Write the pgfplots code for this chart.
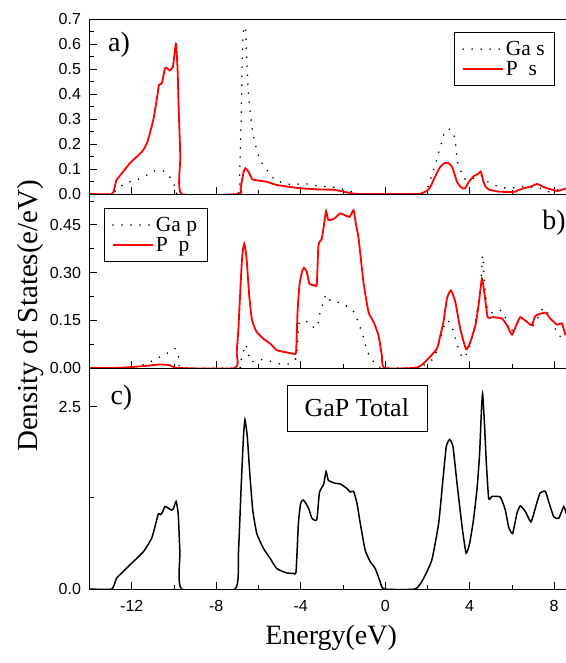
\documentclass[border=0pt]{standalone}
\usepackage{fontspec}
\setmainfont{Liberation Serif}
\newfontfamily\arial{Liberation Sans}
\usepackage{pgfplots}
\pgfplotsset{compat=1.18}
\pgfplotsset{legend image code/.code={\draw[#1] (0pt,0pt) -- (40pt,0pt);}}
\begin{document}
\begin{tikzpicture}
\pgfplotsset{
 dos/.style={
  scale only axis, width=476.5pt, xmin=-14, xmax=8.56,
  axis y line*=left,
  xtick={-12,-8,-4,0,4,8}, minor xtick={-10,-6,-2,2,6},
  xtick pos=bottom, ytick pos=left,
  tick align=inside, major tick length=7pt, minor tick length=4pt,
  tick style={black, line width=0.8pt},
  axis line style={line width=0.8pt},
  /pgf/number format/assume math mode=true,
  tick label style={font=\arial\fontsize{16}{18}\selectfont},
  yticklabel style={xshift=-5pt},
  xticklabel style={yshift=-8pt},
  legend cell align=left,
  legend style={draw=black, line width=0.6pt, font=\fontsize{21.5}{24}\selectfont, inner xsep=8pt, inner ysep=7pt,
     /tikz/every even column/.style={column sep=3pt}},
 },
 sdot/.style={black, line width=1.8pt, line cap=round, dash pattern=on 0pt off 9pt, smooth, tension=0.3},
 sred/.style={red, line width=1.8pt, smooth, tension=0.3},
}
% ---------- panel a ----------
\begin{axis}[dos, name=a, height=175pt, ymin=0, ymax=0.7,
  ytick={0,0.1,0.2,0.3,0.4,0.5,0.6,0.7},
  minor ytick={0.05,0.15,0.25,0.35,0.45,0.55,0.65},
  xticklabels={},
  yticklabel style={/pgf/number format/fixed, /pgf/number format/fixed zerofill, /pgf/number format/precision=1},
  legend style={at={(axis description cs:0.977,0.926)}, anchor=north east}]
\addplot[sdot] coordinates {(-14,0) (-12.9,0) (-12.72,0.02) (-12.24,0.045) (-11.77,0.056) (-11.33,0.073) (-10.9,0.093) (-10.51,0.093) (-10.19,0.067) (-9.96,0.03) (-9.8,0) (-7.0,0) (-6.9,0.06) (-6.87,0.136) (-6.82,0.3) (-6.79,0.443) (-6.74,0.62) (-6.69,0.669) (-6.62,0.66) (-6.55,0.536) (-6.48,0.403) (-6.4,0.336) (-6.27,0.243) (-6.08,0.176) (-5.92,0.136) (-5.61,0.096) (-5.21,0.056) (-4.74,0.043) (-4.35,0.036) (-3.9,0.043) (-3.4,0.035) (-2.92,0.03) (-2.46,0.027) (-2.05,0.02) (-1.58,0.009) (-1.3,0) (1.6,0) (1.98,0.02) (2.29,0.096) (2.57,0.176) (2.7,0.216) (2.84,0.253) (3.0,0.26) (3.16,0.253) (3.32,0.216) (3.4,0.136) (3.55,0.1) (3.71,0.063) (3.95,0.056) (4.18,0.063) (4.5,0.076) (4.72,0.056) (4.98,0.043) (5.45,0.027) (5.92,0.023) (6.4,0.03) (6.87,0.027) (7.35,0.023) (7.74,0.009) (8.14,0.016) (8.53,0.023)};
\addlegendentry{Ga s}
\addplot[sred] coordinates {(-14,0) (-12.95,0) (-12.8,0.03) (-12.72,0.056) (-12.4,0.09) (-12.08,0.124) (-11.75,0.15) (-11.45,0.176) (-11.25,0.21) (-11.14,0.244) (-10.98,0.296) (-10.82,0.376) (-10.71,0.436) (-10.6,0.44) (-10.55,0.45) (-10.43,0.503) (-10.32,0.503) (-10.19,0.494) (-10.05,0.51) (-9.95,0.58) (-9.9,0.60) (-9.83,0.5) (-9.78,0.35) (-9.7,0.15) (-9.64,0) (-6.95,0) (-6.85,0.02) (-6.79,0.049) (-6.7,0.09) (-6.62,0.103) (-6.48,0.09) (-6.3,0.06) (-6.1,0.055) (-5.61,0.049) (-5.3,0.04) (-5.13,0.036) (-4.5,0.028) (-4.03,0.023) (-3.08,0.018) (-2.46,0.017) (-2.0,0.01) (-1.66,0.004) (-1.2,0) (1.5,0) (1.75,0.004) (1.98,0.013) (2.15,0.03) (2.29,0.056) (2.45,0.085) (2.61,0.109) (2.78,0.122) (2.92,0.125) (3.05,0.12) (3.16,0.109) (3.3,0.075) (3.4,0.049) (3.55,0.03) (3.7,0.022) (3.79,0.023) (3.9,0.04) (4.03,0.056) (4.2,0.072) (4.35,0.078) (4.45,0.084) (4.52,0.09) (4.58,0.075) (4.65,0.05) (4.75,0.03) (4.9,0.018) (5.2,0.012) (5.45,0.009) (6.08,0.008) (6.3,0.015) (6.55,0.023) (6.9,0.03) (7.19,0.04) (7.45,0.03) (7.66,0.023) (8.14,0.012) (8.4,0.018) (8.58,0.023)};
\addlegendentry{P~~s}
\node[font=\fontsize{28}{30}\selectfont] at (axis description cs:0.062,0.851) {a)};
\end{axis}
% ---------- panel b ----------
\begin{axis}[dos, name=b, at={(a.south west)}, anchor=north west, height=174pt, ymin=0, ymax=0.547,
  ytick={0,0.15,0.30,0.45},
  minor ytick={0.075,0.225,0.375,0.525},
  xticklabels={},
  yticklabel style={/pgf/number format/fixed, /pgf/number format/fixed zerofill, /pgf/number format/precision=2},
  ylabel={Density of States(e/eV)},
  ylabel style={at={(axis description cs:-0.088,0.30)}, anchor=south, font=\fontsize{29}{31}\selectfont},
  legend style={at={(axis description cs:0.030,0.92)}, anchor=north west}]
\addplot[sdot] coordinates {(-14,0) (-12.3,0) (-11.77,0.005) (-11.3,0.013) (-10.82,0.03) (-10.35,0.045) (-9.95,0.061) (-9.8,0.04) (-9.72,0.013) (-9.65,0) (-6.95,0) (-6.87,0.013) (-6.74,0.045) (-6.6,0.074) (-6.48,0.045) (-6.36,0.019) (-5.96,0.027) (-5.48,0.022) (-4.98,0.013) (-4.58,0.013) (-4.22,0.03) (-4.15,0.082) (-4.06,0.145) (-3.79,0.145) (-3.63,0.145) (-3.32,0.124) (-3.16,0.145) (-3.08,0.176) (-2.95,0.203) (-2.80,0.231) (-2.57,0.21) (-2.13,0.205) (-1.69,0.189) (-1.42,0.171) (-1.26,0.139) (-1.1,0.113) (-0.87,0.056) (-0.63,0.027) (-0.39,0.008) (-0.1,0) (1.4,0) (1.74,0.006) (2.29,0.03) (2.61,0.092) (2.8,0.134) (2.95,0.15) (3.08,0.139) (3.19,0.124) (3.32,0.092) (3.48,0.059) (3.68,0.03) (3.95,0.056) (4.18,0.113) (4.34,0.176) (4.47,0.228) (4.55,0.291) (4.61,0.354) (4.68,0.29) (4.75,0.228) (4.87,0.176) (5.06,0.174) (5.5,0.181) (5.73,0.152) (5.92,0.113) (6.24,0.14) (6.64,0.15) (7.03,0.134) (7.5,0.189) (7.98,0.14) (8.14,0.108) (8.53,0.087)};
\addlegendentry{Ga p}
\addplot[sred] coordinates {(-14,0) (-12.9,0) (-12.0,0.003) (-11.3,0.007) (-10.7,0.011) (-10.2,0.009) (-9.8,0) (-7.11,0) (-7.03,0.05) (-6.95,0.124) (-6.87,0.23) (-6.79,0.333) (-6.72,0.38) (-6.67,0.391) (-6.61,0.37) (-6.55,0.333) (-6.44,0.229) (-6.32,0.155) (-6.2,0.13) (-6.08,0.113) (-5.77,0.092) (-5.45,0.077) (-5.13,0.056) (-4.66,0.049) (-4.35,0.045) (-4.22,0.05) (-4.15,0.176) (-4.06,0.26) (-3.95,0.30) (-3.85,0.315) (-3.71,0.302) (-3.59,0.265) (-3.35,0.26) (-3.24,0.262) (-3.16,0.386) (-3.0,0.407) (-2.9,0.45) (-2.80,0.493) (-2.69,0.465) (-2.4,0.47) (-2.13,0.486) (-1.69,0.475) (-1.5,0.496) (-1.38,0.45) (-1.26,0.407) (-1.03,0.27) (-0.79,0.176) (-0.55,0.145) (-0.32,0.103) (-0.16,0.04) (-0.05,0) (1.34,0) (1.66,0.006) (2.05,0.03) (2.45,0.061) (2.6,0.1) (2.76,0.145) (2.92,0.218) (3.11,0.244) (3.32,0.208) (3.55,0.124) (3.83,0.059) (4.03,0.082) (4.27,0.134) (4.42,0.197) (4.58,0.281) (4.71,0.228) (4.85,0.16) (5.13,0.16) (5.53,0.155) (5.77,0.134) (6.0,0.105) (6.24,0.14) (6.4,0.16) (6.71,0.145) (6.95,0.134) (7.11,0.164) (7.58,0.174) (7.82,0.155) (8.14,0.136) (8.37,0.14) (8.53,0.103)};
\addlegendentry{P~~p}
\node[font=\fontsize{28}{30}\selectfont] at (axis description cs:0.975,0.833) {b)};
\end{axis}
% ---------- panel c ----------
\begin{axis}[dos, name=c, at={(b.south west)}, anchor=north west, height=221pt, ymin=0, ymax=3.03,
  ytick={0,2.5}, minor ytick={1.25},
  yticklabel style={/pgf/number format/fixed, /pgf/number format/fixed zerofill, /pgf/number format/precision=1},
  xlabel={Energy(eV)},
  xlabel style={at={(axis description cs:0.507,0)}, anchor=north, yshift=-33pt, font=\fontsize{28}{30}\selectfont}]
\addplot[black, line width=1.5pt, smooth, tension=0.3] coordinates {(-14,0) (-12.95,0) (-12.72,0.147) (-12.4,0.24) (-12.09,0.33) (-11.45,0.51) (-11.06,0.695) (-10.9,0.855) (-10.74,1.03) (-10.64,1.02) (-10.55,1.05) (-10.43,1.13) (-10.27,1.11) (-10.11,1.08) (-10.03,1.1) (-9.9,1.2) (-9.8,1.03) (-9.72,0.5) (-9.64,0) (-7.11,0) (-6.95,0.49) (-6.82,1.40) (-6.71,2.09) (-6.64,2.32) (-6.53,2.09) (-6.40,1.54) (-6.27,1.08) (-6.08,0.76) (-5.77,0.56) (-5.45,0.42) (-5.13,0.28) (-4.66,0.22) (-4.35,0.215) (-4.22,0.24) (-4.11,0.90) (-4.0,1.18) (-3.87,1.22) (-3.71,1.15) (-3.59,1.08) (-3.47,0.97) (-3.24,0.95) (-3.11,1.33) (-2.92,1.43) (-2.80,1.61) (-2.69,1.49) (-2.37,1.45) (-2.13,1.44) (-1.82,1.38) (-1.66,1.33) (-1.50,1.34) (-1.34,1.18) (-1.18,0.90) (-0.95,0.535) (-0.71,0.375) (-0.47,0.28) (-0.24,0.1) (-0.05,0) (1.42,0) (1.82,0.147) (2.21,0.40) (2.53,0.90) (2.73,1.49) (2.89,1.95) (3.05,2.05) (3.21,1.95) (3.40,1.45) (3.64,0.855) (3.83,0.49) (4.0,0.63) (4.18,0.95) (4.35,1.38) (4.47,1.86) (4.55,2.41) (4.61,2.68) (4.69,2.32) (4.79,1.72) (4.90,1.24) (5.06,1.27) (5.45,1.26) (5.69,1.08) (5.84,0.855) (6.03,0.76) (6.24,1.04) (6.40,1.14) (6.64,1.06) (6.90,0.92) (7.11,1.11) (7.32,1.31) (7.58,1.34) (7.74,1.2) (7.98,0.99) (8.22,0.97) (8.45,1.13) (8.58,1.03)};
\node[font=\fontsize{28}{30}\selectfont] at (axis description cs:0.067,0.864) {c)};
\node[draw, line width=0.6pt, font=\fontsize{26}{28}\selectfont, minimum width=140pt, minimum height=46pt] at (axis description cs:0.561,0.819) {GaP Total};
\end{axis}
\pgfresetboundingbox
\path ([xshift=-89.5pt,yshift=19pt]a.north west) rectangle ([yshift=-74pt]c.south east);
\end{tikzpicture}
\end{document}
